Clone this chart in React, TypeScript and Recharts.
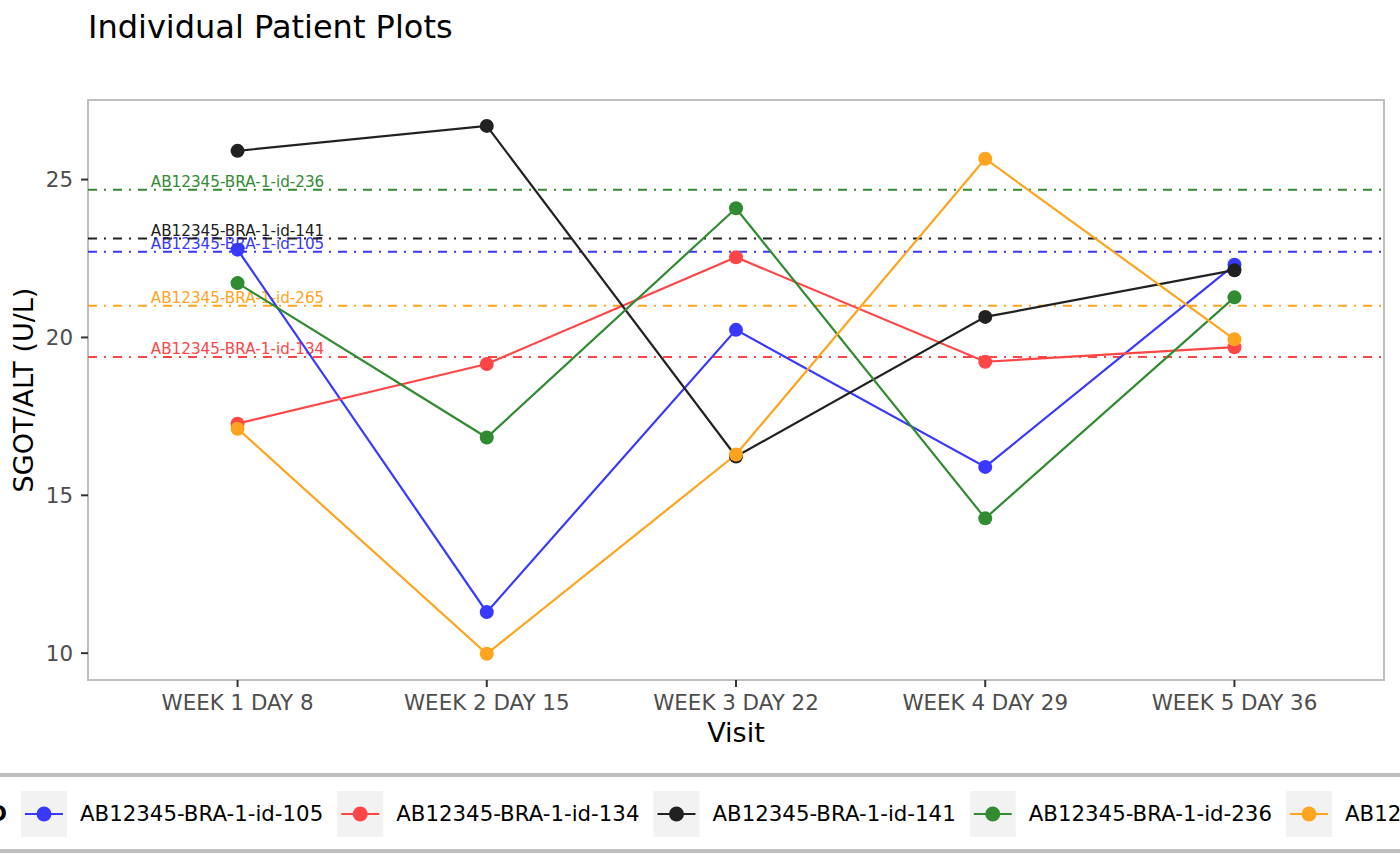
import React from 'react';
import { LineChart, Line, XAxis, YAxis, ReferenceLine, ReferenceArea } from 'recharts';

const visits = ['WEEK 1 DAY 8', 'WEEK 2 DAY 15', 'WEEK 3 DAY 22', 'WEEK 4 DAY 29', 'WEEK 5 DAY 36'];
const patients = ['AB12345-BRA-1-id-105', 'AB12345-BRA-1-id-134', 'AB12345-BRA-1-id-141', 'AB12345-BRA-1-id-236', 'AB12345-BRA-1-id-265'];
const colors = ['#3838ff', '#ff4646', '#212121', '#318b31', '#ffa41c'];

const id105 = [22.78, 11.3, 20.24, 15.9, 22.3];
const id134 = [17.27, 19.16, 22.54, 19.23, 19.69];
const id141 = [25.91, 26.7, 16.23, 20.65, 22.13];
const id236 = [21.72, 16.83, 24.09, 14.27, 21.27];
const id265 = [17.11, 9.98, 16.29, 25.66, 19.94];
const seriesValues = [id105, id134, id141, id236, id265];

// per-patient reference levels (dot-dash lines)
const refLevels = [22.71, 19.38, 23.13, 24.68, 21.0];

const yTicks = [10, 15, 20, 25];
const yDomain: [number, number] = [9.15, 27.52];
const xDomain: [number, number] = [0.4, 5.6];

const data = visits.map((v, i) => {
  const row: Record<string, number | string> = { x: i + 1, visit: v };
  patients.forEach((p, j) => {
    row[p] = seriesValues[j][i];
  });
  return row;
});

const FONT = '"DejaVu Sans", sans-serif';

function refLabel(text: string, color: string) {
  return (props: any) => {
    const vb = props.viewBox || {};
    const x = vb.x + (vb.width * (1 - xDomain[0])) / (xDomain[1] - xDomain[0]);
    return (
      <text x={x} y={vb.y - 3} textAnchor="middle" fontSize={15.2} fill={color} fontFamily={FONT}>
        {text}
      </text>
    );
  };
}

export default function App() {
  return (
    <div style={{ position: 'absolute', left: 0, top: 0, width: 1400, height: 866, background: '#fff', overflow: 'hidden' }}>
      <LineChart
        width={1400}
        height={866}
        data={data}
        margin={{ top: 100, right: 16, left: 0, bottom: 146 }}
      >
        <XAxis
          dataKey="x"
          type="number"
          domain={xDomain}
          ticks={[1, 2, 3, 4, 5]}
          tickFormatter={(v: number) => visits[v - 1]}
          axisLine={false}
          tickLine={{ stroke: '#333', strokeWidth: 2 }}
          tickSize={7}
          tickMargin={8}
          height={40}
          tick={{ fill: '#4d4d4d', fontSize: 21.4, fontFamily: FONT }}
          interval={0}
        />
        <YAxis
          type="number"
          domain={yDomain}
          ticks={yTicks}
          axisLine={false}
          tickLine={{ stroke: '#333', strokeWidth: 2 }}
          tickSize={7}
          tickMargin={8}
          width={88}
          tick={{ fill: '#4d4d4d', fontSize: 21.4, fontFamily: FONT }}
          allowDataOverflow
        />
        <ReferenceArea
          x1={xDomain[0]}
          x2={xDomain[1]}
          y1={yDomain[0]}
          y2={yDomain[1]}
          fill="none"
          stroke="#bebebe"
          strokeWidth={2}
          ifOverflow="visible"
        />
        {patients.map((p, j) => (
          <ReferenceLine
            key={'ref-' + p}
            y={refLevels[j]}
            stroke={colors[j]}
            strokeWidth={2}
            strokeDasharray="9 7 2 7"
            label={refLabel(p, colors[j])}
          />
        ))}
        {patients.map((p, j) => (
          <Line
            key={p}
            dataKey={p}
            type="linear"
            stroke={colors[j]}
            strokeWidth={2.2}
            dot={{ r: 7, fill: colors[j], stroke: colors[j], strokeWidth: 0 }}
            activeDot={false}
            isAnimationActive={false}
          />
        ))}
      </LineChart>

      <svg
        width={1400}
        height={866}
        style={{ position: 'absolute', left: 0, top: 0, pointerEvents: 'none' }}
        fontFamily={FONT}
      >
        <text x={88} y={38} fontSize={32} fill="#000">Individual Patient Plots</text>
        <text x={736} y={742} fontSize={27} fill="#000" textAnchor="middle">Visit</text>
        <text x={33} y={390} fontSize={27} fill="#000" textAnchor="middle" transform="rotate(-90 33 390)">
          SGOT/ALT (U/L)
        </text>

        {/* legend */}
        <rect x={0} y={773} width={1400} height={4} fill="#bebebe" />
        <rect x={0} y={849} width={1400} height={4} fill="#bebebe" />
        <text x={7} y={821} fontSize={21.3} fontWeight="bold" textAnchor="end" fill="#000">USUBJID</text>
        {patients.map((p, j) => {
          const bx = 21 + j * 316.25;
          return (
            <g key={'lg-' + p}>
              <rect x={bx} y={791} width={46} height={46} fill="#f2f2f2" />
              <line x1={bx + 4} x2={bx + 42} y1={814} y2={814} stroke={colors[j]} strokeWidth={2.2} />
              <circle cx={bx + 23} cy={814} r={7.5} fill={colors[j]} />
              <text x={bx + 59} y={821} fontSize={21.3} fill="#000">{p}</text>
            </g>
          );
        })}
      </svg>
    </div>
  );
}
